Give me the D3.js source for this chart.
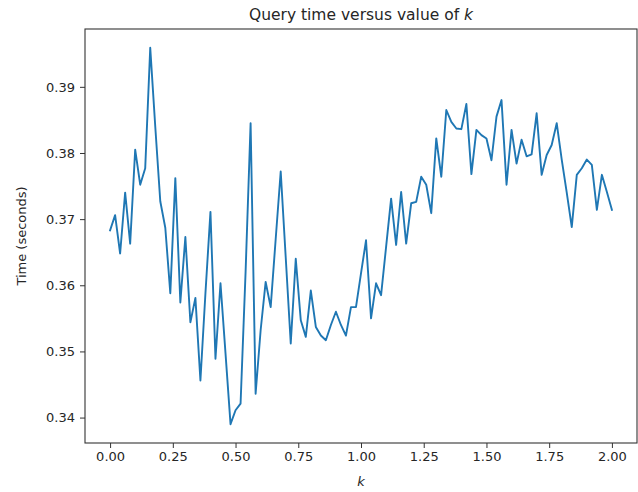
<!DOCTYPE html>
<html>
<head>
<meta charset="utf-8">
<script src="https://cdn.jsdelivr.net/npm/d3@7/dist/d3.min.js"></script>
<style>
  html, body { margin: 0; padding: 0; background: #fff; }
  svg { display: block; font-family: "DejaVu Sans", sans-serif; }
</style>
</head>
<body>
<svg id="chart" width="638" height="492"></svg>
<script>
/************************* Data *************************/
const K_VALUES = [
  0.00, 0.02, 0.04, 0.06, 0.08, 0.10, 0.12, 0.14, 0.16, 0.18,
  0.20, 0.22, 0.24, 0.26, 0.28, 0.30, 0.32, 0.34, 0.36, 0.38,
  0.40, 0.42, 0.44, 0.46, 0.48, 0.50, 0.52, 0.54, 0.56, 0.58,
  0.60, 0.62, 0.64, 0.66, 0.68, 0.70, 0.72, 0.74, 0.76, 0.78,
  0.80, 0.82, 0.84, 0.86, 0.88, 0.90, 0.92, 0.94, 0.96, 0.98,
  1.00, 1.02, 1.04, 1.06, 1.08, 1.10, 1.12, 1.14, 1.16, 1.18,
  1.20, 1.22, 1.24, 1.26, 1.28, 1.30, 1.32, 1.34, 1.36, 1.38,
  1.40, 1.42, 1.44, 1.46, 1.48, 1.50, 1.52, 1.54, 1.56, 1.58,
  1.60, 1.62, 1.64, 1.66, 1.68, 1.70, 1.72, 1.74, 1.76, 1.78,
  1.80, 1.82, 1.84, 1.86, 1.88, 1.90, 1.92, 1.94, 1.96, 1.98,
  2.00
];
const QUERY_TIMES = [
  0.3683, 0.3706, 0.3648, 0.3740, 0.3663, 0.3805, 0.3752, 0.3777, 0.3959, 0.3840,
  0.3727, 0.3687, 0.3588, 0.3762, 0.3574, 0.3673, 0.3544, 0.3581, 0.3456, 0.3588,
  0.3711, 0.3489, 0.3603, 0.3497, 0.3390, 0.3411, 0.3421, 0.3620, 0.3845, 0.3436,
  0.3532, 0.3605, 0.3567, 0.3670, 0.3772, 0.3642, 0.3512, 0.3640, 0.3547, 0.3522,
  0.3592, 0.3537, 0.3524, 0.3517, 0.3540, 0.3560, 0.3540, 0.3524, 0.3567, 0.3567,
  0.3618, 0.3668, 0.3550, 0.3603, 0.3585, 0.3658, 0.3731, 0.3661, 0.3741, 0.3663,
  0.3724, 0.3726, 0.3764, 0.3752, 0.3709, 0.3822, 0.3764, 0.3865, 0.3847, 0.3837,
  0.3836, 0.3874, 0.3768, 0.3835, 0.3827, 0.3822, 0.3789, 0.3855, 0.3880, 0.3752,
  0.3835, 0.3784, 0.3820, 0.3795, 0.3798, 0.3860, 0.3767, 0.3797, 0.3812, 0.3845,
  0.3790, 0.3740, 0.3688, 0.3767, 0.3777, 0.3790, 0.3782, 0.3714, 0.3767, 0.3741,
  0.3714
];
const X_TICKS = [0, 0.25, 0.5, 0.75, 1, 1.25, 1.5, 1.75, 2];
const Y_TICKS = [0.34, 0.35, 0.36, 0.37, 0.38, 0.39];

/************************* Layout *************************/
const FRAME = { left: 85, right: 637, top: 29, bottom: 443 };
const TEXT_COLOR = "#262626";
const LINE_COLOR = "#1f77b4";

const svg = d3.select("#chart");

// matplotlib-style 5% margins round the data
function padded(extent) {
  const pad = (extent[1] - extent[0]) * 0.05;
  return [extent[0] - pad, extent[1] + pad];
}

const x = d3.scaleLinear()
  .domain(padded(d3.extent(K_VALUES)))
  .range([FRAME.left, FRAME.right]);
const y = d3.scaleLinear()
  .domain(padded(d3.extent(QUERY_TIMES)))
  .range([FRAME.bottom, FRAME.top]);

/************************* Axes *************************/
const xAxis = svg.append("g")
  .attr("transform", `translate(0,${FRAME.bottom})`)
  .call(d3.axisBottom(x)
    .tickValues(X_TICKS)
    .tickFormat(d3.format(".2f"))
    .tickSize(5)
    .tickSizeOuter(0)
    .tickPadding(4));

const yAxis = svg.append("g")
  .attr("transform", `translate(${FRAME.left},0)`)
  .call(d3.axisLeft(y)
    .tickValues(Y_TICKS)
    .tickFormat(d3.format(".2f"))
    .tickSize(5)
    .tickSizeOuter(0)
    .tickPadding(5));

[xAxis, yAxis].forEach(g => {
  g.select(".domain").remove();
  g.selectAll(".tick line").attr("stroke", "#333").attr("stroke-width", 1);
  g.selectAll(".tick text")
    .attr("fill", TEXT_COLOR)
    .style("font-size", "13px")
    .style("font-family", "DejaVu Sans, sans-serif");
});

/************************* Line *************************/
const line = d3.line()
  .x((d, i) => x(K_VALUES[i]))
  .y(d => y(d));

svg.append("path")
  .datum(QUERY_TIMES)
  .attr("d", line)
  .attr("fill", "none")
  .attr("stroke", LINE_COLOR)
  .attr("stroke-width", 1.9)
  .attr("stroke-linejoin", "round")
  .attr("stroke-linecap", "square");

// Frame (spines)
svg.append("rect")
  .attr("x", FRAME.left)
  .attr("y", FRAME.top)
  .attr("width", FRAME.right - FRAME.left)
  .attr("height", FRAME.bottom - FRAME.top)
  .attr("fill", "none")
  .attr("stroke", "#333")
  .attr("stroke-width", 1.1);

/************************* Labels *************************/
const midX = (FRAME.left + FRAME.right) / 2;
const midY = (FRAME.top + FRAME.bottom) / 2;

const title = svg.append("text")
  .attr("x", midX)
  .attr("y", 20)
  .attr("text-anchor", "middle")
  .attr("fill", TEXT_COLOR)
  .style("font-size", "15.5px");
title.append("tspan").text("Query time versus value of ");
title.append("tspan").attr("font-style", "italic").text("k");

svg.append("text")
  .attr("x", midX)
  .attr("y", 486)
  .attr("text-anchor", "middle")
  .attr("fill", TEXT_COLOR)
  .attr("font-style", "italic")
  .style("font-size", "13px")
  .text("k");

svg.append("text")
  .attr("transform", `translate(26,${midY}) rotate(-90)`)
  .attr("text-anchor", "middle")
  .attr("fill", TEXT_COLOR)
  .style("font-size", "13px")
  .text("Time (seconds)");
</script>
</body>
</html>
